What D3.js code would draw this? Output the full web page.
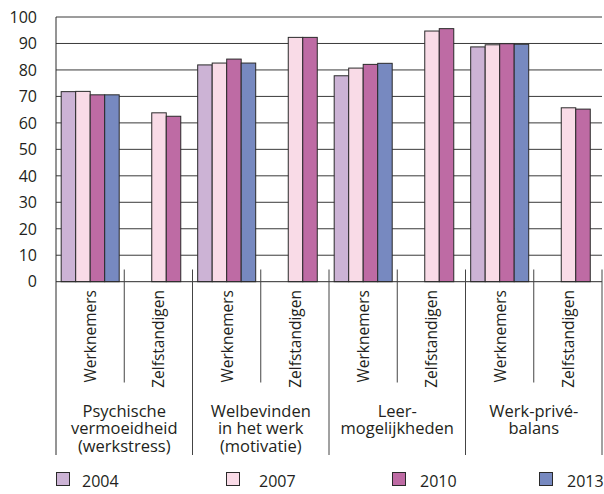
<!DOCTYPE html>
<html><head><meta charset="utf-8">
<script src="https://cdn.jsdelivr.net/npm/d3@7"></script>
<style>html,body{margin:0;padding:0;background:#fff}svg{display:block}</style>
</head><body><svg id="c" width="604" height="494"></svg>
<script>
const groups = ["Psychische\nvermoeidheid\n(werkstress)", "Welbevinden\nin het werk\n(motivatie)", "Leer-\nmogelijkheden", "Werk-privé-\nbalans"];
const types = ["Werknemers", "Zelfstandigen"];
const years = ["2004", "2007", "2010", "2013"];
const colors = ["#ccb3d5", "#f9dbe7", "#be6ba4", "#7789c0"];
// values per group: Werknemers [2004,2007,2010,2013], Zelfstandigen [2007,2010]
const werknemers = [
  [71.8, 71.9, 70.6, 70.6],
  [81.9, 82.6, 84.1, 82.6],
  [77.8, 80.7, 82.1, 82.5],
  [88.7, 89.5, 89.9, 89.7]
];
const zelfstandigen = [
  [63.8, 62.5],
  [92.3, 92.3],
  [94.7, 95.6],
  [65.7, 65.2]
];
const zelfYears = ["2007", "2010"];
const yTicks = [0,10,20,30,40,50,60,70,80,90,100];

const svg = d3.select("#c");
const font = "'Open Sans', 'Noto Sans', sans-serif";
const txt = "#231f20";
const mLeft = 56, mRight = 602, mTop = 17, mBottom = 281.7;

const cats = [];
groups.forEach((g, gi) => types.forEach(t => cats.push(gi + "|" + t)));
const x = d3.scaleBand().domain(cats).range([mLeft, mRight]).padding(0);
const y = d3.scaleLinear().domain([0, 100]).range([mBottom, mTop]);
const bw = x.bandwidth();
const xW = d3.scaleBand().domain(years).range([bw * 0.076, bw * 0.926]).padding(0);
const xZ = d3.scaleBand().domain(zelfYears).range([bw * 0.403, bw * 0.828]).padding(0);
const col = d3.scaleOrdinal().domain(years).range(colors);

// gridlines
svg.append("g").selectAll("line").data(yTicks.filter(d => d > 0)).join("line")
  .attr("x1", mLeft).attr("x2", mRight)
  .attr("y1", d => y(d)).attr("y2", d => y(d))
  .attr("stroke", "#3a3a3a").attr("stroke-width", 1);

// y axis labels
svg.append("g").selectAll("text").data(yTicks).join("text")
  .attr("x", 37).attr("y", d => y(d)).attr("dy", "0.36em")
  .attr("text-anchor", "end").attr("font-family", font).attr("font-size", 16)
  .attr("fill", txt).text(d => d);

// bars
const bars = [];
groups.forEach((g, gi) => {
  years.forEach((yr, i) => bars.push({cat: gi + "|Werknemers", yr, v: werknemers[gi][i], sub: xW}));
  zelfYears.forEach((yr, i) => bars.push({cat: gi + "|Zelfstandigen", yr, v: zelfstandigen[gi][i], sub: xZ}));
});
svg.append("g").selectAll("rect").data(bars).join("rect")
  .attr("x", d => x(d.cat) + d.sub(d.yr))
  .attr("width", d => d.sub.bandwidth())
  .attr("y", d => y(d.v))
  .attr("height", d => y(0) - y(d.v))
  .attr("fill", d => col(d.yr))
  .attr("stroke", "#2a2a2a").attr("stroke-width", 1);

// axes lines
svg.append("line").attr("x1", mLeft).attr("x2", mRight).attr("y1", y(0)).attr("y2", y(0))
  .attr("stroke", "#2a2a2a").attr("stroke-width", 1);
svg.append("line").attr("x1", mLeft).attr("x2", mLeft).attr("y1", mTop).attr("y2", 455)
  .attr("stroke", "#2a2a2a").attr("stroke-width", 1);

// category separators
const bounds = d3.range(1, cats.length + 1);
svg.append("g").selectAll("line").data(bounds).join("line")
  .attr("x1", i => mLeft + i * bw).attr("x2", i => mLeft + i * bw)
  .attr("y1", 269.5)
  .attr("y2", i => (i % 2 === 0) ? 455 : 382.5)
  .attr("stroke", "#444").attr("stroke-width", 1);

// rotated sub labels
svg.append("g").selectAll("text").data(cats).join("text")
  .attr("transform", d => `translate(${x(d) + bw / 2 + 6},290) rotate(-90)`)
  .attr("text-anchor", "end").attr("font-family", font).attr("font-size", 15.5)
  .attr("fill", txt).text(d => d.split("|")[1]);

// group labels (one text per line)
const lines = [];
groups.forEach((g, gi) => g.split("\n").forEach((line, li) => lines.push({gi, li, line})));
svg.append("g").selectAll("text").data(lines).join("text")
  .attr("x", d => mLeft + (d.gi * 2 + 1) * bw)
  .attr("y", d => 416.5 + d.li * 17.5)
  .attr("text-anchor", "middle").attr("font-family", font).attr("font-size", 16.5)
  .attr("fill", txt).text(d => d.line);

// legend
const legSq = [56, 226, 392, 539];
const legTx = [82, 259, 420, 567];
const lg = svg.append("g").selectAll("g").data(years).join("g");
lg.append("rect").attr("x", (d, i) => legSq[i] + 0.5).attr("y", 472.5).attr("width", 13).attr("height", 13)
  .attr("fill", d => col(d)).attr("stroke", "#2a2a2a").attr("stroke-width", 1);
lg.append("text").attr("x", (d, i) => legTx[i]).attr("y", 486.5)
  .attr("font-family", font).attr("font-size", 16).attr("fill", txt).text(d => d);
</script></body></html>
